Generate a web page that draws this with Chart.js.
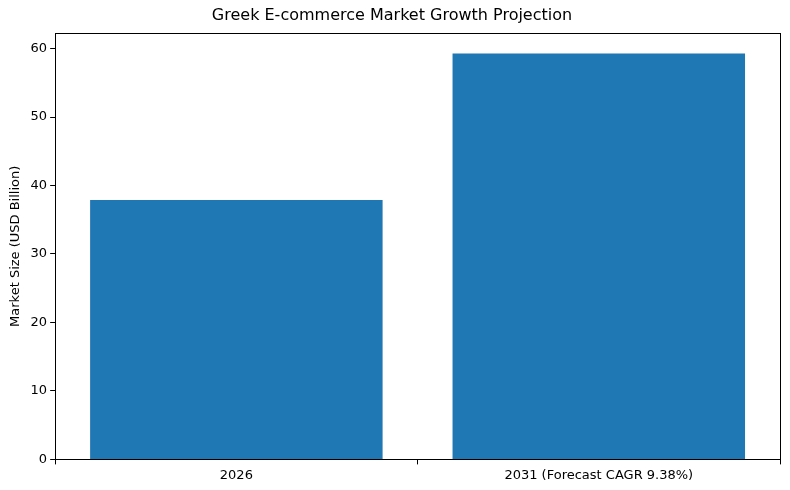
<!DOCTYPE html>
<html><head><meta charset="utf-8">
<script src="https://cdn.jsdelivr.net/npm/chart.js@4/dist/chart.umd.min.js"></script>
<style>html,body{margin:0;padding:0;background:#fff}#w{width:790px;height:490px}</style>
</head><body><div id="w"><canvas id="c"></canvas></div>
<script>
const categories = ["2026", "2031 (Forecast CAGR 9.38%)"];
const marketSize = [37.87, 59.28];
const yTicks = [0, 10, 20, 30, 40, 50, 60];

const frame = {
  id: 'frame',
  afterDraw(ch) {
    const a = ch.chartArea, c = ch.ctx;
    c.save(); c.strokeStyle = '#000'; c.lineWidth = 1;
    c.strokeRect(Math.round(a.left) + 0.5, Math.round(a.top) + 0.5, Math.round(a.right - a.left), Math.round(a.bottom - a.top));
    c.restore();
  }
};

new Chart(document.getElementById('c'), {
  type: 'bar',
  data: { labels: categories, datasets: [{ data: marketSize, backgroundColor: '#1f77b4', barPercentage: 0.807, categoryPercentage: 1 }] },
  options: {
    responsive: true, maintainAspectRatio: false, animation: false,
    layout: { padding: { top: 4, right: 10, bottom: 4, left: 4 } },
    plugins: {
      legend: { display: false }, tooltip: { enabled: false },
      title: { display: true, text: 'Greek E-commerce Market Growth Projection', color: '#000',
        font: { family: 'DejaVu Sans', size: 16, weight: 'normal' }, padding: { top: 2, bottom: 8 } }
    },
    scales: {
      x: {
        grid: { display: true, drawOnChartArea: false, drawTicks: true, tickLength: 5, color: '#000' },
        border: { display: false },
        ticks: { color: '#000', font: { family: 'DejaVu Sans', size: 13 }, padding: 3 }
      },
      y: {
        min: 0, max: 62.24,
        afterBuildTicks(s) { s.ticks = yTicks.map(v => ({ value: v })); },
        grid: { display: true, drawOnChartArea: false, drawTicks: true, tickLength: 5, color: '#000' },
        border: { display: false },
        ticks: { color: '#000', font: { family: 'DejaVu Sans', size: 13 }, padding: 3 },
        title: { display: true, text: 'Market Size (USD Billion)', color: '#000', font: { family: 'DejaVu Sans', size: 13 }, padding: 4 }
      }
    }
  },
  plugins: [frame]
});
</script></body></html>
